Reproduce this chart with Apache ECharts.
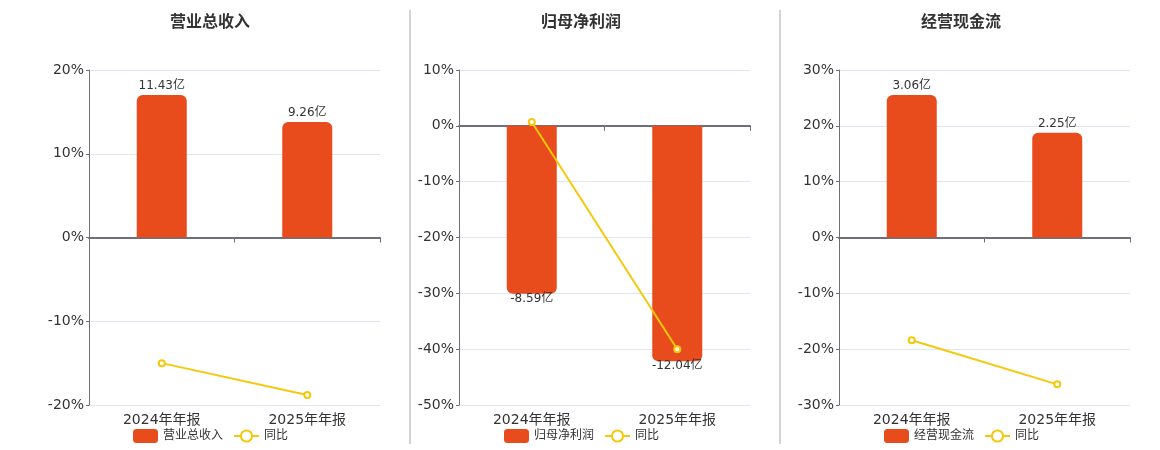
<!DOCTYPE html>
<html lang="zh">
<head>
    <meta charset="UTF-8">
    <title>营收 利润 现金流</title>
    <script src="https://cdn.jsdelivr.net/npm/echarts@6/dist/echarts.min.js"></script>
    <style>
        html, body { margin: 0; padding: 0; background: #fff; }
        #main { width: 1160px; height: 450px; }
    </style>
</head>
<body>
<div id="main"></div>
<script>
    // 数据
    var categories = ['2024年年报', '2025年年报'];
    var panelTitles = ['营业总收入', '归母净利润', '经营现金流'];
    var barValues = [[11.43, 9.26], [-8.59, -12.04], [3.06, 2.25]];   // 亿
    var yoyValues = [[-15.0, -18.8], [0.7, -40.0], [-18.4, -26.3]];  // %
    var pctMin = [-20, -50, -30];
    var pctMax = [20, 10, 30];
    var pctStep = [10, 10, 10];
    // 柱子用的隐藏轴: 亿 / 百分点
    var barScale = [0.6715, 0.2855, 0.1199];

    var font = "'DejaVu Sans', 'Noto Sans CJK SC', sans-serif";
    var axisColor = '#6e7079';
    var barColor = '#e84b1c';
    var lineColor = '#f5c80c';

    var gridLeft = [89, 459, 839];
    var centers = [210, 581, 961];

    var option = {
        textStyle: { fontFamily: font },
        animation: false,
        title: [], legend: [], grid: [], xAxis: [], yAxis: [], series: [],
        graphic: [410, 780].map(function (x) {
            return {
                type: 'line',
                shape: { x1: x, y1: 10, x2: x, y2: 444 },
                style: { stroke: '#a8a8a8', lineWidth: 1 }
            };
        })
    };

    panelTitles.forEach(function (name, i) {
        option.title.push({
            text: name,
            left: centers[i],
            top: 15,
            padding: 0,
            textAlign: 'center',
            textStyle: { fontSize: 16, fontWeight: 'bold', color: '#333', fontFamily: font }
        });
        option.legend.push({
            left: centers[i] - 82,
            top: 424,
            itemWidth: 25,
            itemHeight: 14,
            itemGap: 10,
            data: [{ name: name, icon: 'roundRect' }, { name: '同比' }],
            textStyle: { fontSize: 12, color: '#333', fontFamily: font }
        });
        option.grid.push({ left: gridLeft[i], width: 291, top: 70, height: 335 });

        // 底部标签轴
        option.xAxis.push({
            type: 'category', gridIndex: i, data: categories, position: 'bottom',
            axisLine: { show: false, onZero: false },
            axisTick: { show: false },
            axisLabel: { fontSize: 14, color: '#333', margin: 8 }
        });
        // 零线轴
        option.xAxis.push({
            type: 'category', gridIndex: i, data: categories, position: 'bottom',
            axisLine: { onZero: true, onZeroAxisIndex: i * 2, lineStyle: { color: axisColor, width: 2 } },
            axisTick: { show: true, length: 5, lineStyle: { color: axisColor } },
            axisLabel: { show: false }
        });

        option.yAxis.push({
            type: 'value', gridIndex: i,
            min: pctMin[i], max: pctMax[i], interval: pctStep[i],
            axisLine: { show: true, lineStyle: { color: axisColor } },
            axisTick: { show: true, length: 3, lineStyle: { color: axisColor } },
            axisLabel: { formatter: '{value}%', fontSize: 14, color: '#333', margin: 5, padding: [4, 0, 0, 0] },
            splitLine: { lineStyle: { color: '#e0e6f1' } }
        });
        option.yAxis.push({
            type: 'value', gridIndex: i, show: false,
            min: pctMin[i] * barScale[i], max: pctMax[i] * barScale[i],
            splitLine: { show: false }
        });

        option.series.push({
            name: name,
            type: 'bar',
            xAxisIndex: i * 2,
            yAxisIndex: i * 2 + 1,
            barWidth: 50,
            itemStyle: { color: barColor },
            data: barValues[i].map(function (v) {
                var up = v >= 0;
                return {
                    value: v,
                    itemStyle: { borderRadius: up ? [6, 6, 0, 0] : [0, 0, 6, 6] },
                    label: {
                        show: true,
                        position: up ? 'top' : 'bottom',
                        distance: up ? 3 : -1,
                        formatter: function (p) { return p.value + '亿'; },
                        fontSize: 12,
                        color: '#333'
                    }
                };
            })
        });
        option.series.push({
            name: '同比',
            type: 'line',
            xAxisIndex: i * 2,
            yAxisIndex: i * 2,
            data: yoyValues[i],
            symbol: 'emptyCircle',
            symbolSize: 6,
            lineStyle: { color: lineColor, width: 2 },
            itemStyle: { color: lineColor, borderWidth: 1.5 }
        });
    });

    var myChart = echarts.init(document.getElementById('main'));
    myChart.setOption(option);
</script>
</body>
</html>
